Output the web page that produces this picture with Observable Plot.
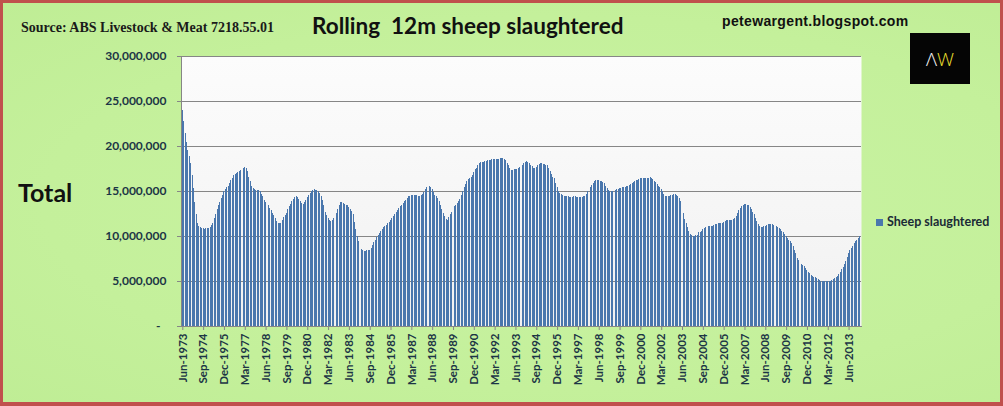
<!DOCTYPE html>
<html>
<head>
<meta charset="utf-8">
<script src="https://cdn.jsdelivr.net/npm/d3@7"></script>
<script src="https://cdn.jsdelivr.net/npm/@observablehq/plot@0.6"></script>
<style>
  html, body { margin: 0; padding: 0; background: #c5f09c; }
  #page { position: relative; width: 1003px; height: 406px; overflow: hidden;
    background: radial-gradient(ellipse at 55% 50%, #c9f3a3 0%, #c4f09b 65%, #bfed95 100%); }
  #border { position: absolute; left: 0; top: 0; right: 0; bottom: 0; box-sizing: border-box;
    border: 3px solid #c0504d; border-bottom-width: 4px; pointer-events: none; z-index: 10; }
  .t { position: absolute; white-space: pre; line-height: 1; margin: 0; }
  #source { left: 21px; top: 21px; font-family: "Liberation Serif", serif; font-weight: bold; font-size: 14px; color: #1a1a1a; }
  #title { left: 312px; top: 15px; font-family: Lato, sans-serif; font-weight: bold; font-size: 22.5px; color: #111; }
  #site { left: 722px; top: 14px; font-family: "Liberation Sans", Arial, sans-serif; font-weight: bold; font-size: 14px; letter-spacing: 0.35px; color: #111; }
  #total { left: 18px; top: 180px; font-family: Lato, sans-serif; font-weight: bold; font-size: 25px; color: #111; }
  #logo { position: absolute; left: 910px; top: 33px; width: 60px; height: 51px; background: #050505;
    display: flex; align-items: center; justify-content: center; font-family: "Open Sans", sans-serif; font-weight: 300; font-size: 19px; }
  #logo .a { color: #f2f2f2; } #logo .w { color: #e8df2e; }
  #legend { left: 876px; top: 216px; font-family: Lato, sans-serif; font-weight: bold; font-size: 12.5px; color: #1a2a36; display: flex; align-items: center; }
  #legend .sw { display: inline-block; width: 7px; height: 7px; background: #4a77ad; margin-right: 4px; }
  #chart { position: absolute; left: 0; top: 0; }
</style>
</head>
<body>
<div id="page">
  <div id="chart"></div>
  <div class="t" id="source">Source: ABS Livestock &amp; Meat 7218.55.01</div>
  <div class="t" id="title">Rolling  12m sheep slaughtered</div>
  <div class="t" id="site">petewargent.blogspot.com</div>
  <div class="t" id="total">Total</div>
  <div id="logo"><span class="a">Λ</span><span class="w">W</span></div>
  <div class="t" id="legend"><span class="sw"></span>Sheep slaughtered</div>
  <div id="border"></div>
</div>
<script>
// Monthly series starts Jun-1973
const startYear = 1973;
const startMonth = 5; // 0-based, June
const monthNames = ["Jan","Feb","Mar","Apr","May","Jun","Jul","Aug","Sep","Oct","Nov","Dec"];

// Rolling 12-month sheep slaughtered, millions
const sheepMillions = [
  24.0, 22.8, 21.5, 20.5, 19.6, 18.9, 18.1, 16.8, 15.3, 13.8, 12.5, 11.5,
  11.1, 11.0, 10.9, 10.9, 10.8, 10.9, 10.9, 10.9, 11.0, 11.2, 11.5, 12.0,
  12.5, 13.0, 13.4, 13.8, 14.2, 14.6, 15.0, 15.2, 15.4, 15.6, 15.9, 16.2,
  16.5, 16.8, 16.9, 17.0, 17.1, 17.2, 17.3, 17.4, 17.6, 17.7, 17.6, 17.2,
  16.6, 16.1, 15.6, 15.3, 15.2, 15.1, 15.1, 15.1, 15.0, 14.7, 14.4, 14.0,
  13.8, 13.6, 13.4, 13.1, 12.9, 12.6, 12.3, 12.0, 11.7, 11.5, 11.4, 11.5,
  11.8, 12.1, 12.3, 12.6, 13.0, 13.3, 13.6, 13.9, 14.1, 14.3, 14.4, 14.3,
  14.1, 13.9, 13.7, 13.6, 13.8, 14.0, 14.3, 14.6, 14.8, 15.0, 15.1, 15.2,
  15.1, 15.1, 15.0, 14.8, 14.5, 14.0, 13.4, 12.7, 12.3, 12.0, 11.8, 11.7,
  11.8, 12.0, 12.3, 12.6, 13.0, 13.4, 13.8, 13.8, 13.7, 13.6, 13.5, 13.4,
  13.2, 13.0, 12.8, 12.4, 11.6, 10.8, 10.0, 9.4, 9.0, 8.6, 8.4, 8.3,
  8.3, 8.4, 8.4, 8.5, 8.7, 9.0, 9.3, 9.6, 9.9, 10.1, 10.3, 10.6,
  10.8, 11.0, 11.1, 11.2, 11.4, 11.6, 11.8, 12.0, 12.2, 12.4, 12.7, 12.9,
  13.1, 13.3, 13.5, 13.7, 13.9, 14.0, 14.2, 14.4, 14.5, 14.6, 14.6, 14.6,
  14.6, 14.6, 14.5, 14.5, 14.6, 14.7, 14.9, 15.2, 15.4, 15.5, 15.6, 15.4,
  15.2, 14.9, 14.6, 14.4, 14.2, 13.9, 13.5, 13.0, 12.6, 12.2, 11.9, 11.8,
  12.1, 12.4, 12.7, 13.0, 13.3, 13.5, 13.7, 13.9, 14.1, 14.6, 15.0, 15.4,
  15.8, 16.1, 16.3, 16.4, 16.6, 16.8, 17.1, 17.4, 17.6, 17.9, 18.1, 18.2,
  18.2, 18.2, 18.3, 18.3, 18.4, 18.4, 18.5, 18.6, 18.6, 18.6, 18.6, 18.6,
  18.6, 18.7, 18.7, 18.7, 18.6, 18.4, 18.1, 17.9, 17.6, 17.3, 17.3, 17.4,
  17.4, 17.5, 17.6, 17.7, 17.8, 17.9, 18.1, 18.2, 18.3, 18.2, 18.1, 17.9,
  17.8, 17.6, 17.6, 17.7, 17.9, 18.0, 18.1, 18.1, 18.0, 18.0, 17.9, 17.9,
  17.6, 17.2, 16.9, 16.6, 16.4, 15.9, 15.4, 15.0, 14.8, 14.7, 14.6, 14.5,
  14.5, 14.4, 14.4, 14.3, 14.3, 14.3, 14.4, 14.4, 14.3, 14.3, 14.3, 14.3,
  14.3, 14.4, 14.4, 14.7, 15.0, 15.2, 15.4, 15.7, 15.9, 16.1, 16.2, 16.2,
  16.2, 16.1, 16.1, 16.0, 15.9, 15.6, 15.3, 15.1, 15.0, 15.0, 15.0, 15.0,
  15.1, 15.2, 15.2, 15.3, 15.3, 15.4, 15.5, 15.5, 15.6, 15.6, 15.7, 15.8,
  15.9, 16.0, 16.1, 16.2, 16.2, 16.3, 16.4, 16.4, 16.4, 16.4, 16.5, 16.5,
  16.5, 16.6, 16.5, 16.3, 16.1, 16.0, 15.8, 15.6, 15.4, 15.2, 15.0, 14.7,
  14.5, 14.4, 14.4, 14.5, 14.6, 14.6, 14.7, 14.7, 14.6, 14.5, 14.2, 13.9,
  13.4, 12.6, 11.9, 11.4, 11.0, 10.6, 10.2, 10.1, 10.0, 10.0, 10.1, 10.1,
  10.4, 10.5, 10.6, 10.8, 10.9, 11.0, 11.0, 11.1, 11.1, 11.1, 11.1, 11.2,
  11.3, 11.3, 11.4, 11.4, 11.5, 11.5, 11.6, 11.7, 11.8, 11.8, 11.8, 11.8,
  11.8, 11.9, 12.0, 12.2, 12.6, 12.9, 13.1, 13.3, 13.4, 13.6, 13.6, 13.5,
  13.4, 13.2, 13.0, 12.7, 12.4, 12.0, 11.7, 11.3, 11.1, 11.0, 11.0, 11.1,
  11.1, 11.2, 11.3, 11.3, 11.3, 11.3, 11.2, 11.1, 11.1, 11.0, 10.9, 10.8,
  10.6, 10.4, 10.2, 10.0, 9.8, 9.6, 9.4, 9.2, 8.9, 8.5, 8.1, 7.6,
  7.3, 7.1, 6.9, 6.8, 6.7, 6.5, 6.2, 6.0, 5.9, 5.7, 5.6, 5.5,
  5.4, 5.3, 5.2, 5.1, 5.0, 5.0, 5.0, 5.0, 5.0, 5.0, 5.0, 5.0,
  5.1, 5.2, 5.3, 5.5, 5.6, 5.8, 6.0, 6.3, 6.6, 6.9, 7.2, 7.7,
  8.1, 8.4, 8.7, 8.9, 9.2, 9.4, 9.6, 9.8, 10.0
];

const tickLabels = [
  "Jun-1973","Sep-1974","Dec-1975","Mar-1977","Jun-1978","Sep-1979","Dec-1980","Mar-1982",
  "Jun-1983","Sep-1984","Dec-1985","Mar-1987","Jun-1988","Sep-1989","Dec-1990","Mar-1992",
  "Jun-1993","Sep-1994","Dec-1995","Mar-1997","Jun-1998","Sep-1999","Dec-2000","Mar-2002",
  "Jun-2003","Sep-2004","Dec-2005","Mar-2007","Jun-2008","Sep-2009","Dec-2010","Mar-2012",
  "Jun-2013"
];

const yTicks = [0, 5e6, 10e6, 15e6, 20e6, 25e6, 30e6];

const months = sheepMillions.map((_, i) => {
  const m = startMonth + i;
  return monthNames[m % 12] + "-" + (startYear + Math.floor(m / 12));
});
const rows = months.map((month, i) => ({month, value: sheepMillions[i] * 1e6}));

const fmt = d3.format(",");
const labelColor = "#1c3545";
const axisGrey = "#868686";

const chart = Plot.plot({
  width: 1003,
  height: 406,
  marginLeft: 181,
  marginRight: 142,
  marginTop: 56,
  marginBottom: 80,
  style: {background: "transparent", fontFamily: "Lato, sans-serif", overflow: "visible"},
  x: {type: "band", domain: months, paddingInner: 0.3, paddingOuter: 0.6, label: null},
  y: {domain: [0, 30e6], label: null},
  marks: [
    Plot.frame({fill: "url(#plotBg)", stroke: null}),
    Plot.gridY(yTicks.slice(1), {stroke: axisGrey, strokeOpacity: 1, strokeWidth: 1}),
    Plot.barY(rows, {x: "month", y: "value", fill: "#4a77ad", shapeRendering: "crispEdges"}),
    Plot.frame({anchor: "left", stroke: axisGrey}),
    Plot.frame({anchor: "bottom", stroke: axisGrey}),
    Plot.axisY({
      ticks: yTicks, tickSize: 4, tickPadding: 11, stroke: axisGrey, fill: labelColor,
      fontSize: 12, fontWeight: "bold",
      tickFormat: d => d === 0 ? "-\u2002" : fmt(d)
    }),
    Plot.axisX({
      ticks: tickLabels, tickSize: 4, tickPadding: 3, tickRotate: -90, stroke: axisGrey,
      fill: labelColor, fontSize: 11.5, fontWeight: "bold"
    })
  ]
});

const svg = d3.select(chart);
const defs = svg.insert("defs", ":first-child");
const grad = defs.append("linearGradient").attr("id", "plotBg")
  .attr("x1", 0).attr("y1", 0).attr("x2", 0).attr("y2", 1);
grad.append("stop").attr("offset", "0%").attr("stop-color", "#fcfcfc");
grad.append("stop").attr("offset", "100%").attr("stop-color", "#f1f1f1");

document.getElementById("chart").appendChild(chart);
</script>
</body>
</html>
